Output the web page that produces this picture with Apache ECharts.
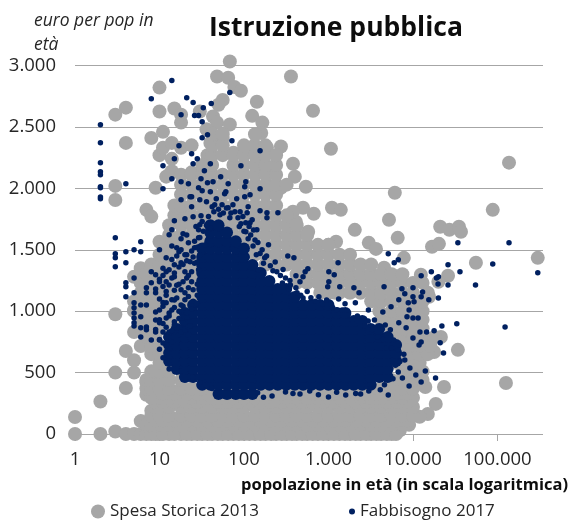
<!DOCTYPE html>
<html><head><meta charset="utf-8">
<style>html,body{margin:0;padding:0;background:#fff}#c{width:572px;height:521px}</style>
<script src="https://cdn.jsdelivr.net/npm/echarts@6/dist/echarts.min.js"></script>
</head><body><div id="c"></div>
<script>
const chartTitle='Istruzione pubblica';
const yName=['euro per pop in','età'];
const xName='popolazione in età (in scala logaritmica)';
const seriesNames=['Spesa Storica 2013','Fabbisogno 2017'];

// Spesa Storica 2013: isolated points [population, euro]
const grayOutliers=[[1,138],[1,0],[2,265],[2,0],[3,20],[3,500],[4,375],[5,500],[5,600],[4,676],[3,975],[5,830],[6,717],[6,105],[7,420],[7,320],[8,190],[5,1280],[6,1350],[5,1010],
[68,3032],[48,2910],[65,2900],[77,2825],[92,2795],[10,2820],[142,2705],[4,2657],[3,2600],[10,2625],[15,2650],[56,2720],[50,2680],[125,2590],[165,2535],[160,2450],[4,2370],[8,2410],[11,2460],[18,2535],[18,2600],[10,2270],[11,2330],[14,2370],[18,2330],[14,2240],[3,2020],[3,1905],[9,2005],[7,1825],[8,1770],[10,1565],
[30,2625],[43,2585],[48,2535],[36,2480],[68,2520],[56,2410],[40,2370],[37,2270],[24,2130],[14,2140],[12,2095],[75,2290],[95,2290],[128,2340],[187,2330],[274,2340],[155,2270],[142,2150],[187,2150],[187,2030],[274,2005],
[360,2910],[656,2632],[1070,2322],[380,2200],[400,2095],[540,2013],[6100,1964],[137000,2209],[88000,1825],[5200,1744],[2050,1662],[6600,1597],[21000,1687],[27000,1662],[35000,1687],[37000,1646],[16800,1524],[20300,1548],[3000,1556],[3650,1507],[1100,1842],[1400,1825],[670,1793],[500,1842],[380,1809],[575,1646],[410,1728],[1230,1565],[1000,1540],[7800,1434],[55600,1394],[300000,1434],
[4550,1353],[12400,1296],[26000,1288],[20000,1239],[15500,1117],[21400,790],[34000,685],[17800,668],[12500,630],[126000,415],[23300,383],[18600,245],[14000,383],[15000,163],[12000,140],[7000,30]];

// Spesa Storica 2013: dense bands, one population list per euro level
const grayBandEuro=[0,0,75,110,150,220,260,295,330,370,440,510,580,650,720,790,860,930,1000,1080,1150,1230,1300,1380,1460,1540,1620,1700,1780,1860,1950,2030,2110,2190,2270,2350,2440];
const grayBandPop=[
[4,5,6,7,8,10,13,18,24,32,42,56,75,100,135,180,240,320,420,560,750,1000,1350,1800,2400,3200,4200,5600],
[9,11,15,21,28,37,49,65,87,116,157,210,280,370,490,650,870,1160,1570,2100,2800,3700,4900,6300],
[7,8,10,13,18,24,32,42,56,75,100,135,180,240,320,420,560,750,1000,1350,1800,2400,3200,4200,5600,7500,9000],
[9,11,15,21,28,37,49,65,87,116,157,210,280,370,490,650,870,1160,1570,2100,2800,3700,4900,6500,8500],
[8,10,13,18,24,32,42,56,75,100,135,180,240,320,420,560,750,1000,1350,1800,2400,3200,4200,5600,7500,10000],
[9,10,13,18,24,32,42,56,75,100,135,180,240,320,420,560,750,1000,1350,1800,2400,3200,4200,5600,7500,10000],
[9,11,15,21,28,37,49,65,87,116,157,210,280,370,490,650,870,1160,1570,2100,2800,3700,4900,6500,8500],
[8,10,13,18,24,32,42,56,75,100,135,180,240,320,420,560,750,1000,1350,1800,2400,3200,4200,5600,7500,10000],
[8,11,15,21,28,37,49,65,87,116,157,210,280,370,490,650,870,1160,1570,2100,2800,3700,4900,6500,8500],
[7,8,10,13,18,24,32,42,56,75,100,135,180,240,320,420,560,750,1000,1350,1800,2400,3200,4200,5600,7500,10000],
[7,8,10,13,18,5600,7500,10000,13000],
[8,9,10,13,7500,10000,13000],
[10,13,6300,7500,9000,12000],
[8,10,6000,7500,9000,12000,15000],
[8,10,5600,7500,9000,12000,16000],
[7,9,6000,8000,10000,13000,18000],
[6,8,11,15,5600,7500,10000,13000],
[6,8,10,14,18,4200,5600,7500,10000,13000],
[5,7,9,12,16,21,4000,5600,7500,10000,13000],
[5,7,9,12,16,21,26,3200,4200,5600,7500,10000,13000],
[6,8,10,13,18,24,32,800,1000,1200,1350,1800,2400,3200,4200,5600,7500,10000,15000],
[6,8,10,13,18,24,32,420,560,750,1000,1350,1800,2400,3200,4200,5600,7500,10000,13000],
[7,9,12,16,21,28,420,560,750,1000,1350,1800,2400,3200,4200,5600,7500],
[8,10,13,18,24,32,180,240,320,420,560,750,1000,1350,1800,2400,3200],
[10,13,18,24,32,135,180,240,320,420,560,750,1000,1350,1800],
[11,15,20,26,32,100,135,180,240,320,420,560,750,1000],
[13,18,24,32,75,100,135,180,240,320,420,560],
[13,18,24,32,42,56,75,100,135,180,240,320,420],
[15,20,24,32,42,56,75,100,135,180,240,320],
[15,18,24,32,42,56,75,100,135,180,240],
[18,24,32,42,56,75,100,135,180,240],
[18,24,32,42,56,75,100,135,180,240,320],
[13,18,24,32,42,56,75,100,135,180,240],
[32,42,75,100,135,180,240],
[42,56,75,100,135,180,240],
[24,42,56,100,135,180],
[42,56,135]];

// Fabbisogno 2017: individually read points [population, euro]
const navyLowPop=[[2,2518],[2,2372],[2,2209],[2,2135],[2,2110],[2,2013],[2,2005],[2,1930],[2,1915],[3,1597],[3,1467],[3,1434],[3,1361],[4,2037],[4,1483],[4,1394],[4,1231],[4,1198],[4,1117],[5,1500],[5,1271],[5,1149],[5,1068],[5,1027],[5,986],[5,945],[5,905],[5,880],[6,1565],[6,1483],[6,1051],[6,954],[6,864],[6,790],[7,1149],[7,1190],[7,1051],[7,872],[7,848],[8,2730],[8,1320],[8,1231],[8,766],[9,1296],[9,1149],[9,994],[9,929],[9,831],[10,1500],[10,905]];
const navyUpper=[[14,2877],[21,2738],[25,2698],[33,2657],[41,2690],[68,2780],[18,2600],[26,2592],[29,2592],[32,2543],[32,2412],[37,2437],[72,2388],[17,2347],[24,2282],[28,2241],[25,2200],[15,2241],[11,2184],[40,2200],[34,2143],[92,2184],[155,2306],[14,2078],[18,2054],[22,2037],[31,2078],[37,2046],[43,2054],[53,2095],[65,2037],[105,2054],[155,1997],[11,1997],[29,2005],[32,1980],[40,1972],[61,1972],[102,2013],[18,1907],[23,1932],[24,1932],[30,1907],[36,1891],[47,1915],[59,1956],[82,1915],[118,1948],[24,1850],[42,1850],[55,1866],[74,1866],[112,1850],[155,1817],[187,1801],[252,1801],[15,1736],[20,1752],[25,1769],[31,1777],[109,1801],[187,1760],[14,1663],[13,1622],[19,1630],[29,1663],[142,1663],[118,1720],[92,1712]];
const navyRight=[[135,1580],[164,1500],[195,1540],[234,1400],[290,1340],[176,1434],[148,1337],[354,1214],[460,1239],[412,1288],[570,1345],[530,1320],[500,1280],[412,1190],[500,1108],[770,1117],[1010,1320],[1170,1296],[1010,1239],[980,1198],[1360,1198],[2000,1190],[2300,1149],[1320,1100],[2080,1068],[1570,1060],[2970,1010],[4550,1198],[7400,1182],[8000,1141],[10000,1190],[13000,1157],[12500,1117],[15400,1092],[20000,1108],[10000,1117],[8800,1068],[10300,1076],[6800,1092],[4400,994],[5500,1035],[9000,1010],[8500,954],[10000,945],[11500,945],[6800,905],[8300,864],[12100,831],[14500,831],[17800,840],[22000,880],[33000,897],[123000,872],[10000,782],[12500,750],[21000,742],[23000,660],[11800,725],[14000,513],[10800,481],[18500,456],[12500,424],[9000,391],[2400,326],[1300,1394],[6000,1394],[26000,1377],[88000,1385],[36000,1320],[16500,1320],[12500,1288],[20000,1280],[19000,1271],[19800,1222],[26000,1214],[55000,1214],[300000,1312],[34000,1557],[137000,1557],[5100,1467],[6700,1418],[330,1450],[390,1434],[3500,929],[4700,888],[5400,848],[5900,766],[6700,685],[8000,603],[9200,538],[6700,505],[7500,456],[5100,318],[3100,400],[1600,318],[1000,302],[460,326],[215,310],[310,342]];
const navyLeft=[[12,1068],[13,1214],[14,1271],[19,1239],[13,1337],[18,1394],[29,1337],[18,1174],[25,1174],[16,1108],[20,1092],[14,1092],[26,1051],[12,945],[15,913],[13,831],[18,994],[23,913],[17,807],[10,766],[12,725],[14,1010],[22,807],[24,1320],[21,1459],[26,1516],[23,1402],[15,1377],[12,1320],[10,1239],[12,1434],[17,1483],[30,1459],[35,1540],[29,1597],[22,1557],[16,1516],[40,1679],[52,1785],[68,1760],[30,1703],[45,1866],[65,1842],[90,1809],[125,1744],[105,1646],[140,1459],[102,1932]];
const navyDense=[[10,770],[11,740],[12,790],[14,750],[9,850],[11,830],[12,870],[14,840],[16,860],[18,830],[20,850],[22,870],[10,930],[11,900],[13,960],[15,890],[17,940],[19,905],[21,950],[23,880],[10,1010],[11,1040],[13,985],[15,1030],[17,1000],[19,1040],[21,990],[24,1020],[10,1100],[11,1070],[12,1130],[15,1090],[18,1050],[22,1120],[25,1080],[28,1060],[9,1180],[11,1200],[12,1160],[15,1170],[16,1210],[20,1150],[22,1190],[28,1130],[10,1260],[11,1290],[12,1240],[15,1280],[17,1220],[21,1270],[24,1240],[28,1220],[11,1350],[15,1310],[17,1360],[20,1320],[22,1290],[26,1390],[14,1420],[16,1450],[19,1380],[21,1410],[25,1440],[28,1400],[14,1530],[18,1500],[20,1460],[24,1490],[28,1520],[18,1590],[21,1620],[26,1570],[30,1600],[33,1650],[27,1690],[32,1730],[36,1700],[38,1770],[44,1810],[50,1830],[57,1800],[62,1840],[70,1800],[78,1810],[85,1760],[97,1770],[105,1720],[115,1690],[88,1690],[100,1650],[120,1620],[130,1660],[112,1590],[146,1560],[128,1530],[155,1470],[170,1390],[185,1450],[205,1370],[220,1330],[245,1320],[270,1290],[310,1270],[350,1250],[285,1230],[340,1180],[425,1150],[470,1130],[560,1160],[620,1110],[700,1080],[850,1060],[950,1090],[1120,1030],[1250,1010],[1450,1010],[1700,970],[1900,930],[2200,960],[2700,880],[2950,920],[3300,850],[3800,790],[4400,770],[4900,700],[5600,700],[6200,560],[7000,590],[7800,650],[5800,450],[4600,400],[4100,360],[3000,350],[2100,330],[1250,340],[760,320],[600,350],[380,330],[170,300],[145,335],[42,370],[30,420],[25,460],[18,510],[13,530],[11,620],[10,690]];

// Fabbisogno 2017: the solid core, one population list per euro level
const navyCoreEuro=[325,400,465,530,595,660,725,790,855,920,985,1050,1115,1180,1245,1310,1375,1440,1510,1570,1640,1700];
const navyCorePop=[
[50,63,80,100,126],
[32,40,50,63,80,100,126,158,200,251,316,398,501,631,794,1000,1259,1585,1995,2512,3162],
[20,25,32,40,50,63,80,100,126,158,200,251,316,398,501,631,794,1000,1259,1585,1995,2512,3162,3981,5012],
[16,20,25,32,40,50,63,80,100,126,158,200,251,316,398,501,631,794,1000,1259,1585,1995,2512,3162,3981,5012],
[13,16,20,25,32,40,50,63,80,100,126,158,200,251,316,398,501,631,794,1000,1259,1585,1995,2512,3162,3981,5012,6310],
[13,16,20,25,32,40,50,63,80,100,126,158,200,251,316,398,501,631,794,1000,1259,1585,1995,2512,3162,3981,5012,6310],
[13,16,20,25,32,40,50,63,80,100,126,158,200,251,316,398,501,631,794,1000,1259,1585,1995,2512,3162,3981,5012,6310],
[13,16,20,25,32,40,50,63,80,100,126,158,200,251,316,398,501,631,794,1000,1259,1585,1995,2512,3162,3981,5012],
[16,20,25,32,40,50,63,80,100,126,158,200,251,316,398,501,631,794,1000,1259,1585,1995,2512,3162,3981],
[20,25,32,40,50,63,80,100,126,158,200,251,316,398,501,631,794,1000,1259,1585,1995,2512],
[20,25,32,40,50,63,80,100,126,158,200,251,316,398,501,631,794,1000,1259,1585],
[25,32,40,50,63,80,100,126,158,200,251,316,398,501,631,794,1000],
[32,40,50,63,80,100,126,158,200,251,316,398],
[32,40,50,63,80,100,126,158,200,251,316],
[32,40,50,63,80,100,126,158,200],
[32,40,50,63,80,100,126,158],
[32,40,50,63,80,100,126],
[32,40,50,63,80,100],
[32,40,50,63,80,100],
[40,50,63,80],
[40,50,63],
[40,50]];

const expand=(levels,lists)=>levels.flatMap((e,i)=>lists[i].map(p=>[p,e]));
const grayData=grayOutliers.concat(expand(grayBandEuro,grayBandPop));
const navyData=navyLowPop.concat(navyUpper,navyRight,navyLeft,navyDense);
const navyCore=expand(navyCoreEuro,navyCorePop);
const dots=v=>String(Math.round(v)).replace(/\B(?=(\d{3})+$)/g,'.');
const txt='#262626',line='#a6a6a6',gray='#a6a6a6',navy='#002060',font='"Open Sans"';

const chart=echarts.init(document.getElementById('c'),null,{renderer:'canvas'});
chart.setOption({
  animation:false,backgroundColor:'#fff',
  title:[
    {text:chartTitle,left:331,top:10,textAlign:'center',textStyle:{fontFamily:font,fontWeight:'bold',fontSize:26.5,color:'#0d0d0d'}},
    {text:yName[0],left:29,top:7,textStyle:{fontFamily:font,fontStyle:'italic',fontWeight:'normal',fontSize:17.5,color:txt}},
    {text:yName[1],left:29,top:31,textStyle:{fontFamily:font,fontStyle:'italic',fontWeight:'normal',fontSize:17.5,color:txt}},
    {text:xName,left:563,top:472,textAlign:'right',textStyle:{fontFamily:font,fontWeight:'bold',fontSize:16.5,color:'#0d0d0d'}}
  ],
  legend:[
    {data:[seriesNames[0]],left:91,top:503,itemWidth:14,itemHeight:14,icon:'circle',itemGap:5,padding:0,textStyle:{fontFamily:font,fontSize:17,color:txt}},
    {data:[seriesNames[1]],left:349,top:503,itemWidth:6,itemHeight:6,icon:'circle',itemGap:6,padding:0,textStyle:{fontFamily:font,fontSize:17,color:txt}}
  ],
  grid:{left:75,right:29,top:65.5,bottom:87,containLabel:false},
  xAxis:{type:'log',logBase:10,min:1,max:346000,
    axisLine:{show:false},axisTick:{show:true,length:7,lineStyle:{color:line}},splitLine:{show:false},
    axisLabel:{margin:16,fontFamily:font,fontSize:18.5,color:txt,showMaxLabel:false,formatter:dots}},
  yAxis:{type:'value',min:0,max:3000,interval:500,
    axisLine:{show:false},axisTick:{show:false},splitLine:{show:true,lineStyle:{color:line,width:1}},
    axisLabel:{margin:19,fontFamily:font,fontSize:18.5,color:txt,formatter:dots}},
  series:[
    {name:seriesNames[0],type:'scatter',data:grayData,symbol:'circle',symbolSize:14,clip:false,silent:true,progressive:0,itemStyle:{color:gray,opacity:1},z:2},
    {name:seriesNames[1],type:'scatter',data:navyCore,symbol:'circle',symbolSize:12,clip:false,silent:true,progressive:0,itemStyle:{color:navy,opacity:1},z:3},
    {name:seriesNames[1],type:'scatter',data:navyData,symbol:'circle',symbolSize:5.5,clip:false,silent:true,progressive:0,itemStyle:{color:navy,opacity:1},z:4}
  ]
});
</script></body></html>
